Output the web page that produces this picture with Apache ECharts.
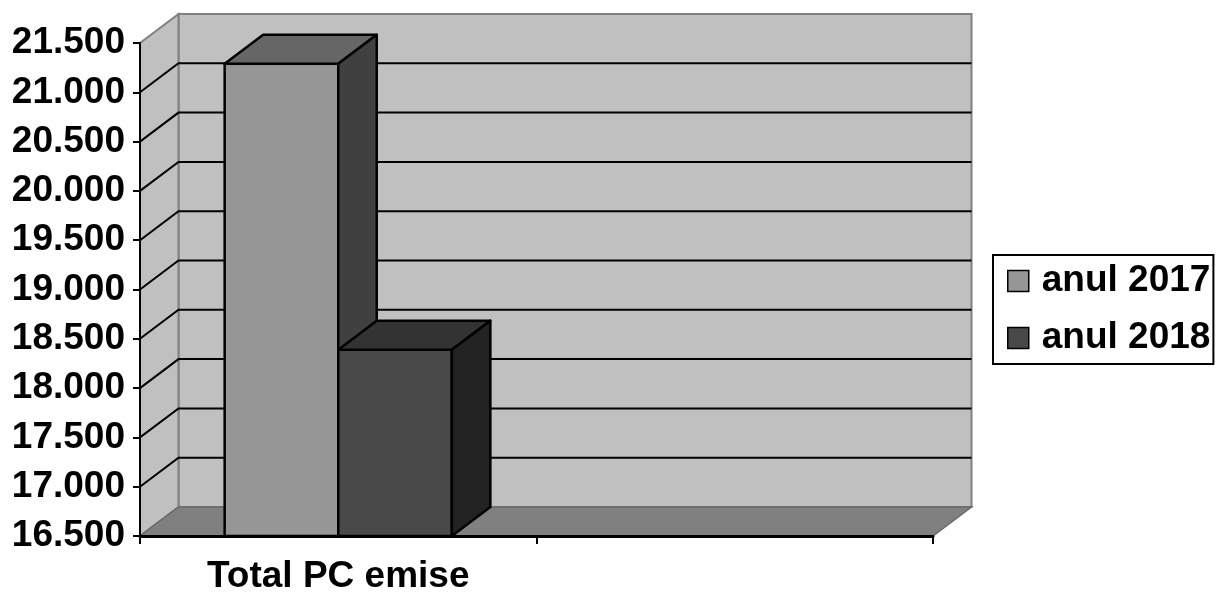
<!DOCTYPE html>
<html>
<head>
<meta charset="utf-8">
<script src="https://cdn.jsdelivr.net/npm/echarts@6/dist/echarts.min.js"></script>
<style>html,body{margin:0;background:#fff}#main{width:1225px;height:592px}</style>
</head>
<body>
<div id="main"></div>
<script type="text/javascript">
var categories = ['Total PC emise', ''];
var seriesNames = ['anul 2017', 'anul 2018'];
var values2017 = [21290];
var values2018 = [18390];
var yTicks = [16500, 17000, 17500, 18000, 18500, 19000, 19500, 20000, 20500, 21000, 21500];

var yMin = yTicks[0], yMax = yTicks[yTicks.length - 1];
var DX = 38.5, DY = 29;      // 3D depth offset
var BAR_RATIO = 0.2865;      // bar width / category band
var FONT = '"Liberation Sans", Arial, sans-serif';

function fmt(v) {
    return String(v).replace(/\B(?=(\d{3})+(?!\d))/g, '.');
}

// walls, floor and back gridlines
function renderWalls(params, api) {
    var cs = params.coordSys;
    var x0 = cs.x, x1 = cs.x + cs.width, yT = cs.y, yB = cs.y + cs.height;
    var ch = [];
    ch.push({type: 'rect', shape: {x: x0 + DX, y: yT - DY, width: cs.width, height: cs.height},
        style: {fill: '#c0c0c0', stroke: '#808080', lineWidth: 2}});
    ch.push({type: 'polygon', shape: {points: [[x0, yT], [x0 + DX, yT - DY], [x0 + DX, yB - DY], [x0, yB]]},
        style: {fill: '#c0c0c0', stroke: '#808080', lineWidth: 2}});
    ch.push({type: 'polygon', shape: {points: [[x0, yB], [x1, yB], [x1 + DX, yB - DY], [x0 + DX, yB - DY]]},
        style: {fill: '#808080', stroke: '#6a6a6a', lineWidth: 1.5}});
    for (var i = 0; i < yTicks.length; i++) {
        var t = yTicks[i];
        if (t === yMin || t === yMax) continue;
        var y = api.coord([0, t])[1];
        ch.push({type: 'polyline', shape: {points: [[x0, y], [x0 + DX, y - DY], [x1 + DX, y - DY]]},
            style: {stroke: '#000', lineWidth: 2, fill: null}});
    }
    return {type: 'group', children: ch};
}

function makeBar(k, front, top, side) {
    return function (params, api) {
        var c = api.coord([api.value(0), api.value(1)]);
        var base = api.coord([api.value(0), yMin]);
        var bw = api.size([1, 0])[0] * BAR_RATIO;
        var xl = c[0] - bw + k * bw, xr = xl + bw, yt = c[1], yb = base[1];
        var st = {stroke: '#000', lineWidth: 2.5, lineJoin: 'round'};
        return {type: 'group', children: [
            {type: 'polygon', shape: {points: [[xl, yt], [xr, yt], [xr, yb], [xl, yb]]},
                style: Object.assign({fill: front}, st)},
            {type: 'polygon', shape: {points: [[xl, yt], [xl + DX, yt - DY], [xr + DX, yt - DY], [xr, yt]]},
                style: Object.assign({fill: top}, st)},
            {type: 'polygon', shape: {points: [[xr, yt], [xr + DX, yt - DY], [xr + DX, yb - DY], [xr, yb]]},
                style: Object.assign({fill: side}, st)}
        ]};
    };
}

var myChart = echarts.init(document.getElementById('main'));
var option = {
    animation: false,
    grid: {left: 140, right: 292, top: 43, bottom: 56, outerBoundsMode: 'none', containLabel: false},
    legend: {
        data: seriesNames,
        orient: 'vertical',
        left: 993, top: 255,
        borderColor: '#000', borderWidth: 2,
        padding: [6, 3, 6, 14],
        itemWidth: 21, itemHeight: 21, itemGap: 17,
        icon: 'rect',
        itemStyle: {borderColor: '#000', borderWidth: 1.5},
        textStyle: {fontSize: 37, fontWeight: 'bold', fontFamily: FONT, color: '#000', lineHeight: 40, padding: [0, 0, 0, 8]}
    },
    xAxis: {
        type: 'category',
        data: categories,
        z: 5,
        axisLine: {lineStyle: {color: '#000', width: 3}},
        axisTick: {show: true, interval: 0, length: 8, lineStyle: {color: '#000', width: 2}},
        axisLabel: {interval: 0, fontSize: 37, fontWeight: 'bold', fontFamily: FONT, color: '#000', margin: 22}
    },
    yAxis: {
        type: 'value',
        min: yMin, max: yMax, interval: 500,
        z: 5,
        axisLine: {show: true, lineStyle: {color: '#000', width: 2}},
        axisTick: {show: true, length: 7, lineStyle: {color: '#000', width: 2}},
        splitLine: {show: false},
        axisLabel: {formatter: fmt, fontSize: 37, fontWeight: 'bold', fontFamily: FONT, color: '#000', margin: 15}
    },
    series: [
        {type: 'custom', name: 'walls', silent: true, renderItem: renderWalls, data: [[0, yMin]], z: 1},
        {type: 'custom', name: seriesNames[0], renderItem: makeBar(0, '#969696', '#666666', '#404040'),
            itemStyle: {color: '#969696'}, encode: {x: 0, y: 1},
            data: values2017.map(function (v, i) { return [i, v]; }), z: 2},
        {type: 'custom', name: seriesNames[1], renderItem: makeBar(1, '#494949', '#333333', '#222222'),
            itemStyle: {color: '#494949'}, encode: {x: 0, y: 1},
            data: values2018.map(function (v, i) { return [i, v]; }), z: 3}
    ]
};
myChart.setOption(option);
</script>
</body>
</html>
